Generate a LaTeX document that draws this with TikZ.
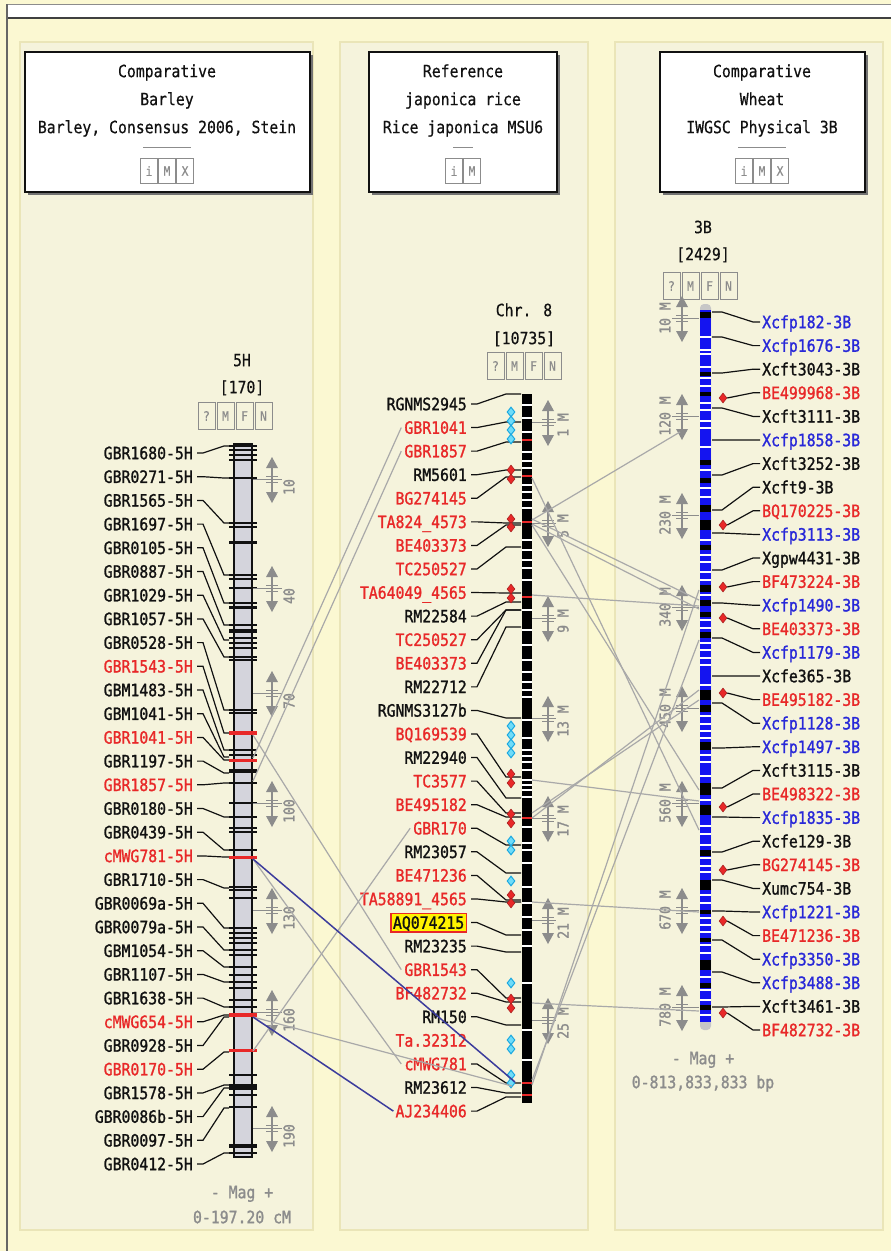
\documentclass[tikz,border=0pt]{standalone}
\usepackage{fontspec}
\newfontfamily\mono{DejaVu Sans Mono}[FakeStretch=0.87, FakeBold=0.5]
\newfontfamily\monob{DejaVu Sans Mono}[FakeStretch=0.87, FakeBold=1.3]
\usetikzlibrary{shapes.geometric}
\definecolor{bgout}{HTML}{FBF8D2}
\definecolor{bgpanel}{HTML}{F5F3DC}
\definecolor{panelline}{HTML}{EAE5B8}
\definecolor{cr}{HTML}{E82828}
\definecolor{cb}{HTML}{2828D8}
\definecolor{ck}{HTML}{111111}
\definecolor{mgray}{HTML}{8C8C8C}
\definecolor{lgray}{HTML}{A9A9A9}
\definecolor{navy}{HTML}{3C3C9C}
\definecolor{barblue}{HTML}{1414F0}
\definecolor{barleft}{HTML}{D4D4DC}
\definecolor{cyanf}{HTML}{6FDCF8}
\definecolor{cyand}{HTML}{1AA8E0}
\tikzset{
  lab/.style={font=\monob\fontsize{17}{17}\selectfont, inner sep=0pt, text height=12.4pt, text depth=0pt},
  hdr/.style={font=\mono\fontsize{17}{17}\selectfont, inner sep=0pt, text height=12.4pt, text depth=0pt, text=ck},
  num/.style={font=\monob\fontsize{15}{15}\selectfont, inner sep=0pt, text=mgray, rotate=90},
  btn/.style={draw=mgray, line width=1pt, minimum width=17pt, minimum height=25pt, inner sep=0pt, font=\mono\fontsize{13}{13}\selectfont, text=mgray},
  plain/.style={},
  hl/.style={fill=yellow, draw=cr, line width=1.5pt, inner xsep=2pt, inner ysep=3pt},
  leader/.style={draw=ck, line width=1.2pt},
  conn/.style={draw=lgray, line width=1.2pt},
  nconn/.style={draw=navy, line width=1.5pt},
  dia/.style={diamond, inner sep=0pt, minimum width=8pt, minimum height=10pt},
  cdia/.style={dia, fill=cyanf, draw=cyand, line width=1pt},
  rdia/.style={dia, fill=cr, draw=cr!70!black, line width=0.5pt},
  smark/.pic={
    \fill[mgray] (-6,-11) -- (6,-11) -- (0,-22) -- cycle;
    \fill[mgray] (-6,13) -- (6,13) -- (0,24) -- cycle;
    \draw[mgray, line width=1.6pt] (0,-11) -- (0,13);
    \draw[mgray, line width=1pt] (-6,-3) -- (6,-3) (-6,3) -- (6,3);
  },
}
\begin{document}
\begin{tikzpicture}[x=1pt,y=-1pt]
\useasboundingbox (0,0) rectangle (891,1251);
\fill[bgout] (0,0) rectangle (891,1251);
\fill[white] (6,4) rectangle (891,17);
\draw[black!45, line width=1pt] (6,4) -- (891,4);
\draw[black!75, line width=2pt] (6,18) -- (891,18);
\draw[black!60, line width=1.5pt] (7,4) -- (7,1251);
% panels
\foreach \a/\b in {20/313, 340/588, 615/883}
  \filldraw[fill=bgpanel, draw=panelline, line width=1.5pt] (\a,42) rectangle (\b,1230);
% header boxes
\foreach \a/\b in {25/310, 369/557, 660/865}{
  \fill[black!55] ({\a+2.5},54.5) rectangle ({\b+2.5},194.5);
  \filldraw[fill=white, draw=ck, line width=1.5pt] (\a,52) rectangle (\b,192);
}
\node[hdr] (hl1) at (167,71) {Comparative};
\node[hdr] (hl2) at (167,99) {Barley};
\node[hdr] (hl3) at (167,127) {Barley, Consensus 2006, Stein};
\draw[mgray, line width=1pt] (143,147) -- (191,147);
\node[btn] (hlb1) at (149,171) {i};
\node[btn] (hlb2) at (167,171) {M};
\node[btn] (hlb3) at (185,171) {X};
\node[hdr] (hm1) at (463,71) {Reference};
\node[hdr] (hm2) at (463,99) {japonica rice};
\node[hdr] (hm3) at (463,127) {Rice japonica MSU6};
\draw[mgray, line width=1pt] (453,147) -- (473,147);
\node[btn] (hmb1) at (454,171) {i};
\node[btn] (hmb2) at (472,171) {M};
\node[hdr] (hr1) at (762,71) {Comparative};
\node[hdr] (hr2) at (762,99) {Wheat};
\node[hdr] (hr3) at (762,127) {IWGSC Physical 3B};
\draw[mgray, line width=1pt] (738,147) -- (786,147);
\node[btn] (hrb1) at (744,171) {i};
\node[btn] (hrb2) at (762,171) {M};
\node[btn] (hrb3) at (780,171) {X};
% chromosome titles and buttons
\node[hdr] (t5h) at (242,360) {5H};
\node[hdr] (t5hn) at (242,387) {[170]};
\node[hdr] (tc8) at (524,310) {Chr. 8};
\node[hdr] (tc8n) at (524,338) {[10735]};
\node[hdr] (t3b) at (703,227) {3B};
\node[hdr] (t3bn) at (703,254) {[2429]};
\foreach \s/\k [count=\i] in {?/-1.5, M/-0.5, F/0.5, N/1.5}{
  \node[btn, minimum height=27pt] (bl\i) at ({235+\k*19},416) {\s};
  \node[btn, minimum height=27pt] (bm\i) at ({524+\k*19},366) {\s};
  \node[btn, minimum height=27pt] (br\i) at ({700+\k*19},286) {\s};
}
% ---------- left chromosome ----------
\filldraw[fill=barleft, draw=ck, line width=1.5pt] (234,444) rectangle (252,1157);
\foreach \y/\w in {446/1.5, 450/1.5, 455/1.5, 460/1.5, 478/1.5, 523/1.5, 527/1.5, 542/3, 575/1.5, 579/1.5, 588/1.5, 603/1.5, 607/3, 625/1.5, 631/4, 638/1.5, 643/1.5, 648/1.5, 657/1.5, 660/1.5, 710/1.5, 713/1.5, 750/1.5, 755/1.5, 771/4, 783/1.5, 803/1.5, 817/1.5, 828/1.5, 832/1.5, 850/1.5, 887/1.5, 890/1.5, 898/1.5, 928/1.5, 933/1.5, 938/1.5, 943/1.5, 950/1.5, 955/1.5, 967/1.5, 975/1.5, 982/1.5, 988/1.5, 1000/1.5, 1007/1.5, 1075/1.5, 1087/6, 1095/1.5, 1107/1.5, 1146/4, 1153/1.5}
  \draw[ck, line width=\w pt] (229,\y) -- (257,\y);
\foreach \y/\w in {733/4, 760/3, 857/3, 1015/4, 1050/3}
  \draw[cr, line width=\w pt] (229,\y) -- (257,\y);
\foreach \n/\p in {10/479, 40/588, 70/693, 100/803, 130/910, 160/1012, 190/1128}{
  \draw[mgray, line width=1pt] (253,\p) -- (282,\p);
  \pic at (272,\p) {smark};
  \node[num] at (289,{\p+8}) {\n};
}
% ---------- middle chromosome ----------
\fill[black] (522,394) rectangle (532,1103);
\foreach \y in {405, 418, 432, 452, 461, 468, 485, 492, 500, 508, 540, 550, 560, 568, 580, 610, 630, 645, 660, 672, 682, 690, 697, 720, 738, 750, 756, 762, 770, 780, 785, 790, 797, 827, 843, 850, 863, 887, 903, 917, 930, 946, 983, 1030, 1060}
  \draw[white, line width=1.5pt] (522,\y) -- (532,\y);
\foreach \y in {440, 476, 522, 597, 818, 1083, 1095}
  \draw[cr, line width=2pt] (522,\y) -- (532,\y);
\foreach \n/\p in {1/422, 5/523, 9/618, 13/718, 17/818, 21/920, 25/1020}{
  \draw[mgray, line width=1pt] (532,\p) -- (556,\p);
  \pic at (548,\p) {smark};
  \node[num] at (563,{\p+3}) {\n{} M};
}
% ---------- right chromosome ----------
\fill[black!22, rounded corners=4pt] (700,304) rectangle (711,1030);
\fill[barblue] (700,310) rectangle (711,1022);
\foreach \a/\b in {312/318, 372/376, 392/396, 460/465, 478/483, 505/512, 520/530, 545/550, 585/592, 600/606, 612/617, 632/638, 690/700, 705/712, 742/750, 783/795, 805/815, 850/856, 880/890, 910/914, 938/942, 960/970, 983/988, 1005/1010}
  \fill[black] (700,\a) rectangle (711,\b);
\foreach \y in {337, 350, 354, 367, 378, 386, 403, 410, 421, 428, 447, 470, 488, 497, 540, 555, 562, 572, 580, 595, 620, 628, 643, 650, 658, 665, 685, 716, 724, 731, 738, 755, 762, 776, 800, 826, 834, 845, 858, 866, 872, 895, 903, 918, 925, 932, 945, 953, 977, 990, 1000, 1015}
  \draw[white, line width=1.3pt] (700,\y) -- (711,\y);
\foreach \n/\p in {10/318, 120/416, 230/515, 340/607, 450/708, 560/803, 670/910, 780/1007}{
  \draw[mgray, line width=1pt] (699,\p) -- (672,\p);
  \pic at (682,\p) {smark};
  \node[num] at (665,\p) {\n{} M};
}
% ---------- left labels ----------
\foreach \t/\c [count=\i] in {GBR1680-5H/ck, GBR0271-5H/ck, GBR1565-5H/ck, GBR1697-5H/ck, GBR0105-5H/ck, GBR0887-5H/ck, GBR1029-5H/ck, GBR1057-5H/ck, GBR0528-5H/ck, GBR1543-5H/cr, GBM1483-5H/ck, GBM1041-5H/ck, GBR1041-5H/cr, GBR1197-5H/ck, GBR1857-5H/cr, GBR0180-5H/ck, GBR0439-5H/ck, cMWG781-5H/cr, GBR1710-5H/ck, GBR0069a-5H/ck, GBR0079a-5H/ck, GBM1054-5H/ck, GBR1107-5H/ck, GBR1638-5H/ck, cMWG654-5H/cr, GBR0928-5H/ck, GBR0170-5H/cr, GBR1578-5H/ck, GBR0086b-5H/ck, GBR0097-5H/ck, GBR0412-5H/ck}
  \node[lab, text=\c, anchor=east] (L\i) at (193,{453+(\i-1)*23.7}) {\t};
\foreach \i/\g in {1/446, 2/478, 3/523, 4/575, 5/603, 6/625, 7/640, 8/657, 9/710, 10/733, 11/750, 12/757, 13/760, 14/773, 15/783, 16/817, 17/850, 18/857, 19/888, 20/928, 21/950, 22/967, 23/982, 24/1007, 25/1015, 26/1017, 27/1052, 28/1085, 29/1088, 30/1108, 31/1153}{
  \coordinate (LT\i) at (229,\g);
  \draw[leader] (L\i.east) ++(4,0) -- ++(6,0) -- (224,\g) -- (LT\i);
}
% ---------- middle labels ----------
\foreach \t/\c/\s [count=\i] in {RGNMS2945/ck/plain, GBR1041/cr/plain, GBR1857/cr/plain, RM5601/ck/plain, BG274145/cr/plain, TA824\_4573/cr/plain, BE403373/cr/plain, TC250527/cr/plain, TA64049\_4565/cr/plain, RM22584/ck/plain, TC250527/cr/plain, BE403373/cr/plain, RM22712/ck/plain, RGNMS3127b/ck/plain, BQ169539/cr/plain, RM22940/ck/plain, TC3577/cr/plain, BE495182/cr/plain, GBR170/cr/plain, RM23057/ck/plain, BE471236/cr/plain, TA58891\_4565/cr/plain, AQ074215/ck/hl, RM23235/ck/plain, GBR1543/cr/plain, BF482732/cr/plain, RM150/ck/plain, Ta.32312/cr/plain, cMWG781/cr/plain, RM23612/ck/plain, AJ234406/cr/plain}
  \node[lab, text=\c, anchor=east, \s] (M\i) at (467,{404+(\i-1)*23.57}) {\t};
\foreach \i/\g in {1/394, 2/422, 3/442, 4/470, 5/477, 6/523, 7/525, 8/547, 9/593, 10/602, 11/610, 12/610, 13/627, 14/718, 15/777, 16/798, 17/813, 18/817, 19/845, 20/873, 21/900, 22/902, 23/935, 24/952, 25/998, 26/1002, 27/1025, 29/1083, 30/1093, 31/1097}{
  \coordinate (MT\i) at (521,\g);
  \draw[leader] (M\i.east) ++(4,0) -- ++(6,0) -- (506,\g) -- (MT\i);
}
\foreach \y in {412, 421, 430, 439, 726, 735, 744, 753, 841, 850, 881, 983, 1040, 1049, 1075, 1083}
  \node[cdia] at (511,\y) {};
\foreach \y in {470, 479, 519, 527, 589, 598, 774, 783, 814, 823, 895, 903, 999, 1008}
  \node[rdia] at (511,\y) {};
% ---------- right labels ----------
\foreach \t/\c [count=\i] in {Xcfp182-3B/cb, Xcfp1676-3B/cb, Xcft3043-3B/ck, BE499968-3B/cr, Xcft3111-3B/ck, Xcfp1858-3B/cb, Xcft3252-3B/ck, Xcft9-3B/ck, BQ170225-3B/cr, Xcfp3113-3B/cb, Xgpw4431-3B/ck, BF473224-3B/cr, Xcfp1490-3B/cb, BE403373-3B/cr, Xcfp1179-3B/cb, Xcfe365-3B/ck, BE495182-3B/cr, Xcfp1128-3B/cb, Xcfp1497-3B/cb, Xcft3115-3B/ck, BE498322-3B/cr, Xcfp1835-3B/cb, Xcfe129-3B/ck, BG274145-3B/cr, Xumc754-3B/ck, Xcfp1221-3B/cb, BE471236-3B/cr, Xcfp3350-3B/cb, Xcfp3488-3B/cb, Xcft3461-3B/ck, BF482732-3B/cr}
  \node[lab, text=\c, anchor=west] (R\i) at (762,{322+(\i-1)*23.6}) {\t};
\foreach \i/\g in {1/312, 2/337, 3/373, 5/408, 6/440, 7/475, 8/510, 10/533, 11/570, 13/603, 15/638, 16/676, 18/703, 19/748, 20/788, 22/817, 23/852, 25/880, 26/911, 28/940, 29/972, 30/1007}{
  \coordinate (RT\i) at (712,\g);
  \draw[leader] (RT\i) -- (722,\g) -- ([xshift=-9pt]R\i.west) -- ([xshift=-2pt]R\i.west);
}
\foreach \i/\g in {4/398, 9/525, 12/587, 14/618, 17/693, 21/807, 24/870, 27/921, 31/1013}{
  \node[rdia] (RD\i) at (723,\g) {};
  \draw[leader] (RD\i.east) -- ([xshift=-9pt]R\i.west) -- ([xshift=-2pt]R\i.west);
}
% ---------- connectors left - middle ----------
\coordinate (c1) at (253,758);
\coordinate (c2) at (253,781);
\coordinate (c3) at (253,735);
\coordinate (c4) at (253,859);
\coordinate (c5) at (253,1017);
\coordinate (c6) at (253,1051);
\coordinate (m1) at (515,1082);
\coordinate (m2) at (512,1086);
\draw[conn] (c1) -- ([xshift=-3pt]M2.west);
\draw[conn] (c2) -- ([xshift=-3pt]M3.west);
\draw[conn] (c3) -- ([xshift=-3pt]M25.west);
\draw[conn] (c4) -- ([xshift=-3pt]M29.west);
\draw[conn] (c6) -- ([xshift=-3pt]M19.west);
\draw[conn] (c5) -- (m2);
\draw[nconn] (c4) -- (m1);
\draw[nconn] (c5) -- ([xshift=-2pt]M31.west);
% ---------- connectors middle - right ----------
\foreach \ya/\xb/\yb [count=\j] in {520/680/432, 519/699/600, 524/699/609, 595/699/606, 478/699/830, 525/699/790, 780/699/801, 813/699/700, 818/699/690, 902/699/912, 1003/699/1011, 1085/699/590, 1080/699/640}{
  \coordinate (ma\j) at (532,\ya);
  \coordinate (rb\j) at (\xb,\yb);
  \draw[conn] (ma\j) -- (rb\j);
}
% ---------- magnification ----------
\node[lab, text=mgray] (magl) at (242,1192) {- Mag +};
\node[lab, text=mgray] (rngl) at (242,1217) {0-197.20 cM};
\node[lab, text=mgray] (magr) at (703,1058) {- Mag +};
\node[lab, text=mgray] (rngr) at (703,1082) {0-813,833,833 bp};
\end{tikzpicture}
\end{document}
